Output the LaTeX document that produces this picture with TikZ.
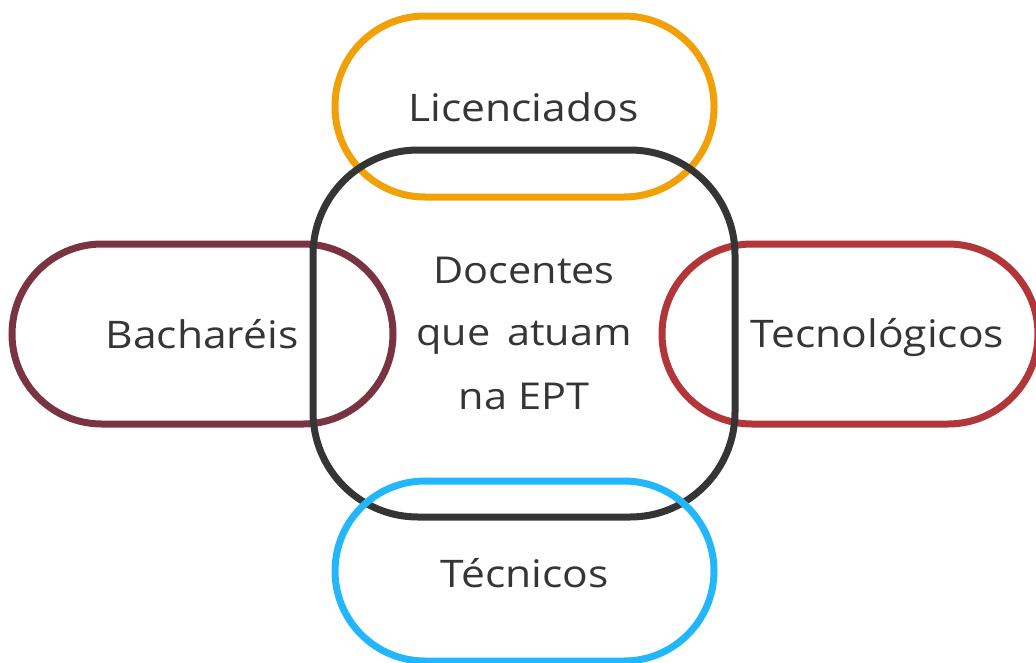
\documentclass[tikz,border=0pt]{standalone}
\usepackage{fontspec}
\setmainfont[FakeStretch=1.12]{Open Sans}
\definecolor{cOrange}{HTML}{F2A007}
\definecolor{cMaroon}{HTML}{7A3343}
\definecolor{cRed}{HTML}{B23539}
\definecolor{cBlue}{HTML}{22B7FD}
\definecolor{cDark}{HTML}{353535}
\begin{document}
\begin{tikzpicture}[x=1pt,y=-1pt,
  pill/.style={draw, line width=7pt, rounded corners=90pt, inner sep=0pt, minimum height=180pt},
  label/.style={anchor=base, text=cDark, font=\fontsize{38}{64}\selectfont, inner sep=0pt},
  core/.style={draw=cDark, line width=7pt, rounded corners=105pt, minimum width=422pt, minimum height=367pt,
     align=center, text=cDark, font=\fontsize{37}{64}\selectfont, inner sep=0pt}]
\useasboundingbox (0,0) rectangle (1036,662);
\clip (0,0) rectangle (1036,662);
\node[pill, draw=cOrange, minimum width=379pt, minimum height=181pt] (lic) at (524.5,106.5) {};
\node[pill, draw=cMaroon, minimum width=381pt] (bac) at (202.5,334) {};
\node[pill, draw=cRed, minimum width=376pt] (tec) at (850,334) {};
\node[core] (ept) at (524,333.5) {Docentes\\[-2pt] que\hspace{0.45em}atuam\\ na EPT};
\node[pill, draw=cBlue, minimum width=379pt] (tcn) at (524.5,571) {};
\node[label] (licT) at (523.5,121) {Licenciados};
\node[label] (bacT) at (202,348) {Bacharéis};
\node[label] (tecT) at (877.5,347) {Tecnológicos};
\node[label] (tcnT) at (524.5,587) {Técnicos};
\end{tikzpicture}
\end{document}
